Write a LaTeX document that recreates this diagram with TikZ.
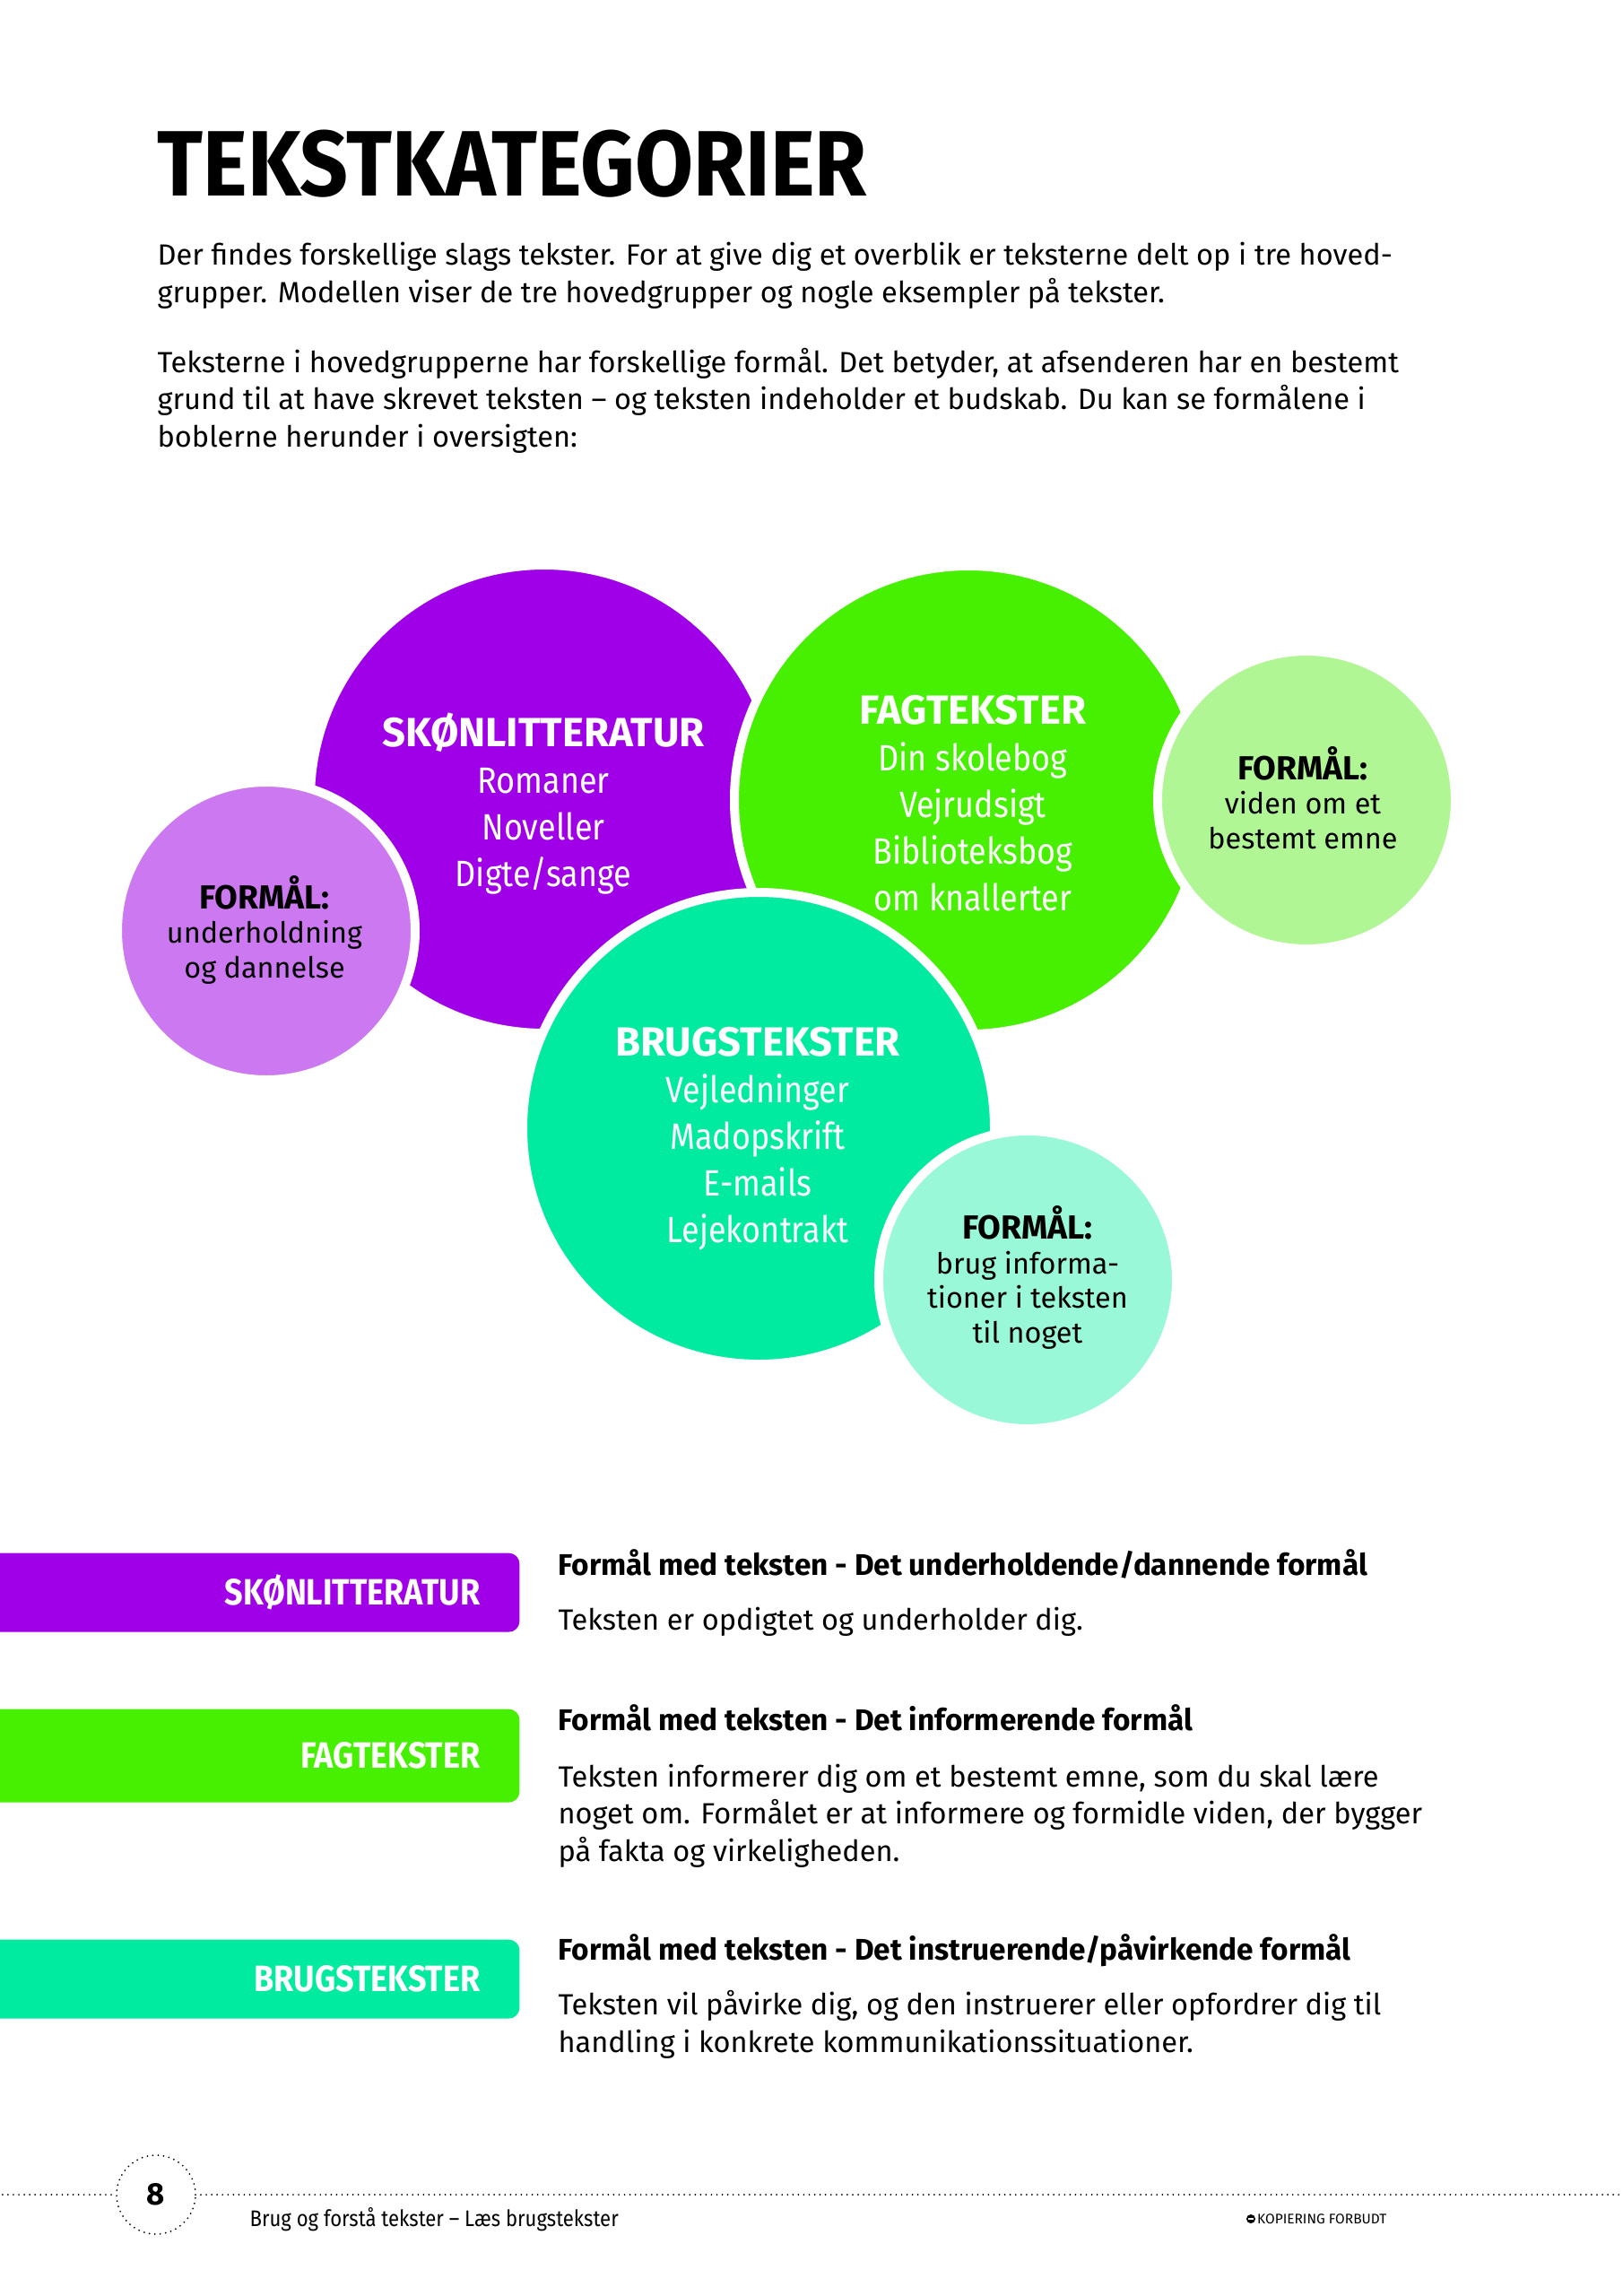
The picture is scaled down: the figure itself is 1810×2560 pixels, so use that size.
\documentclass[tikz,border=0pt]{standalone}
\usepackage{fontspec}
\setmainfont{Fira Sans}
\newfontfamily\narrowfont[FakeStretch=0.88]{Fira Sans}
\newfontfamily\titlefont[FakeStretch=0.91]{Fira Sans}
\usetikzlibrary{positioning}
\definecolor{skonpurple}{HTML}{A000E8}
\definecolor{skonlight}{HTML}{CC78F0}
\definecolor{faggreen}{HTML}{46F000}
\definecolor{faglight}{HTML}{B0F694}
\definecolor{brugteal}{HTML}{00EBA0}
\definecolor{bruglight}{HTML}{98F8D8}
\newlength{\pxu}
\setlength{\pxu}{0.116022mm}
\newcommand{\bubblehead}[1]{{\rmfamily\bfseries\fontsize{15}{17.1}\selectfont #1}}
\newcommand{\aimhead}[1]{{\bfseries\fontsize{12.3}{12.7}\selectfont #1}}

\begin{document}
\begin{tikzpicture}[
    x=0.116022mm, y=-0.116022mm,
    bubble/.style={circle, draw=white, line width=10*\pxu, inner sep=0pt},
    bigtxt/.style={font=\narrowfont\fontsize{13.5}{17.1}\selectfont, text=white, align=center, anchor=base, inner sep=0pt},
    aimtxt/.style={font=\fontsize{10.7}{12.7}\selectfont, text=black, align=center, anchor=base, inner sep=0pt},
    bodytxt/.style={font=\fontsize{10.75}{13.7}\selectfont, align=left, anchor=base west, inner sep=0pt},
    headtxt/.style={font=\bfseries\fontsize{11}{13.7}\selectfont, anchor=base west, inner sep=0pt},
    bar/.style={rounded corners=12*\pxu, minimum width=660*\pxu, minimum height=88*\pxu,
                anchor=north east, inner sep=0pt},
    bartxt/.style={font=\narrowfont\bfseries\fontsize{13.5}{14}\selectfont, text=white, anchor=base east, inner sep=0pt},
    dotline/.style={line width=0.65pt, line cap=round, dash pattern=on 0pt off 2pt},
  ]
  \useasboundingbox (0,0) rectangle (1810,2560);

  % ── Title and intro ──
  \node[font=\titlefont\bfseries\fontsize{34.2}{38}\selectfont, anchor=base west, inner sep=0pt] (title) at (175,218) {TEKSTKATEGORIER};
  \node[bodytxt] (intro1) at (175,337) {Der findes forskellige slags tekster. For at give dig et overblik er teksterne delt op i tre hoved-\\
    grupper. Modellen viser de tre hovedgrupper og nogle eksempler på tekster.};
  \node[bodytxt] (intro2) at (175,498) {Teksterne i hovedgrupperne har forskellige formål. Det betyder, at afsenderen har en bestemt\\
    grund til at have skrevet teksten – og teksten indeholder et budskab. Du kan se formålene i\\
    boblerne herunder i oversigten:};

  % ── Bubbles ──
  \node[bubble, fill=skonpurple, minimum size=522*\pxu] (skon) at (607,891) {};
  \node[bubble, fill=skonlight, minimum size=332*\pxu] (skonaim) at (297,1038) {};
  \node[bubble, fill=faggreen, minimum size=522*\pxu] (fag) at (1080,892) {};
  \node[bubble, fill=faglight, minimum size=332*\pxu] (fagaim) at (1457,892) {};
  \node[bubble, fill=brugteal, minimum size=526*\pxu] (brug) at (846,1258) {};
  \node[bubble, fill=bruglight, minimum size=332*\pxu] (brugaim) at (1146,1427) {};

  % text sits on the baseline of its last line
  \node[bigtxt] (skontxt) at (606,988) {\bubblehead{SKØNLITTERATUR}\\Romaner\\Noveller\\Digte/sange};
  \node[bigtxt] (fagtxt) at (1085,1015) {\bubblehead{FAGTEKSTER}\\Din skolebog\\Vejrudsigt\\Biblioteksbog\\om knallerter};
  \node[bigtxt] (brugtxt) at (845,1385) {\bubblehead{BRUGSTEKSTER}\\Vejledninger\\Madopskrift\\E-mails\\Lejekontrakt};

  \node[aimtxt] (skonaimtxt) at (295,1090) {\aimhead{FORMÅL:}\\underholdning\\og dannelse};
  \node[aimtxt] (fagaimtxt) at (1453,946) {\aimhead{FORMÅL:}\\viden om et\\bestemt emne};
  \node[aimtxt] (brugaimtxt) at (1146,1497) {\aimhead{FORMÅL:}\\brug informa-\\tioner i teksten\\til noget};

  % ── Bars with descriptions ──
  \node[bar, fill=skonpurple] (skonbar) at (580,1731) {};
  \node[bartxt] (skonbartxt) at (536,1789) {SKØNLITTERATUR};
  \node[headtxt] (skonhead) at (622,1756) {Formål med teksten - Det underholdende/dannende formål};
  \node[bodytxt] (skondesc) at (622,1817) {Teksten er opdigtet og underholder dig.};

  \node[bar, fill=faggreen, minimum height=104*\pxu] (fagbar) at (580,1905) {};
  \node[bartxt] (fagbartxt) at (536,1971) {FAGTEKSTER};
  \node[headtxt] (faghead) at (622,1929) {Formål med teksten - Det informerende formål};
  \node[bodytxt] (fagdesc) at (622,2075) {Teksten informerer dig om et bestemt emne, som du skal lære\\
    noget om. Formålet er at informere og formidle viden, der bygger\\
    på fakta og virkeligheden.};

  \node[bar, fill=brugteal] (brugbar) at (580,2162) {};
  \node[bartxt] (brugbartxt) at (536,2220) {BRUGSTEKSTER};
  \node[headtxt] (brughead) at (622,2185) {Formål med teksten - Det instruerende/påvirkende formål};
  \node[bodytxt] (brugdesc) at (622,2288) {Teksten vil påvirke dig, og den instruerer eller opfordrer dig til\\
    handling i konkrete kommunikationssituationer.};

  % ── Footer ──
  \node[circle, draw, dotline, minimum size=88*\pxu, inner sep=0pt,
        font=\bfseries\fontsize{11.5}{12}\selectfont] (pagenum) at (174,2447) {8};
  \coordinate (lineL) at (0,2447);
  \coordinate (lineR) at (1810,2447);
  \draw[dotline, shorten <=5*\pxu] (pagenum.west) -- (lineL);
  \draw[dotline, shorten <=5*\pxu] (pagenum.east) -- (lineR);
  \node[font=\narrowfont\fontsize{8.3}{9}\selectfont, anchor=base west, inner sep=0pt] (book) at (278,2482) {Brug og forstå tekster – Læs brugstekster};
  \node[circle, fill=black, minimum size=10*\pxu, inner sep=0pt] (nocopy) at (1395,2474) {};
  \draw[white, line width=2*\pxu] ([xshift=-3*\pxu]nocopy.center) -- ([xshift=3*\pxu]nocopy.center);
  \node[font=\fontsize{5.1}{6}\selectfont, right=1*\pxu of nocopy, inner sep=0pt] (nocopytxt) {KOPIERING FORBUDT};

\end{tikzpicture}
\end{document}
